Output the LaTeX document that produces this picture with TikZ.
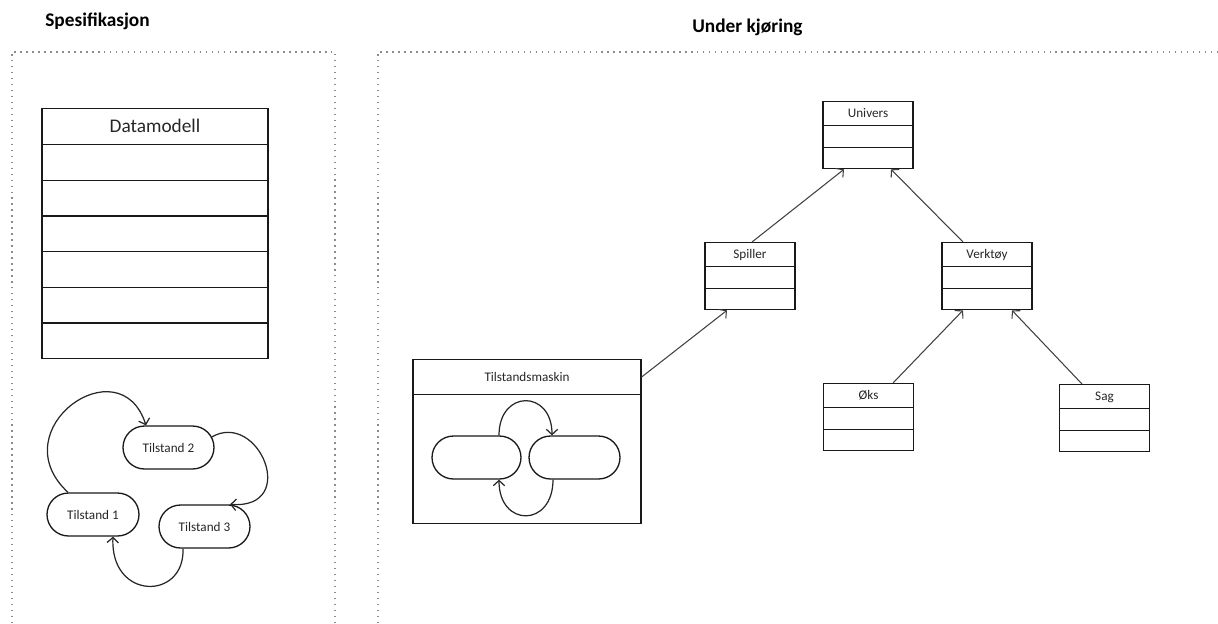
\documentclass[tikz,border=0pt]{standalone}
\usepackage{fontspec}
\setmainfont{Carlito}
\usetikzlibrary{arrows.meta,calc,shapes.misc}
\newcommand\smallfnt{\fontsize{7.5}{9}\selectfont}
\newcommand\midfnt{\fontsize{11}{13}\selectfont}
\newcommand\titlefnt{\fontsize{11}{13}\selectfont\bfseries}
\tikzset{
  frame/.style={draw=black!45, line width=0.7pt, dash pattern=on 0.8pt off 2.6pt},
  box/.style={draw=black!90, line width=0.75pt},
  cls/.style={box, font=\smallfnt, text=black!85, inner xsep=0pt, inner ysep=0pt,
    minimum width=1.8cm, text height=0.325cm, text depth=1.015cm, anchor=north,
    path picture={
      \draw[line width=.75pt] ([yshift=-0.48cm]path picture bounding box.north west) -- ([yshift=-0.48cm]path picture bounding box.north east);
      \draw[line width=.75pt] ([yshift=-0.92cm]path picture bounding box.north west) -- ([yshift=-0.92cm]path picture bounding box.north east);}},
  pill/.style={box, rounded rectangle, minimum height=0.86cm, font=\smallfnt, text=black!85, inner sep=0pt},
  arr/.style={draw=black!75, line width=0.6pt, -{Straight Barb[length=3pt,width=6.5pt]}},
  loop/.style={draw=black!85, line width=0.7pt, -{Straight Barb[length=3pt,width=6.5pt]}},
}
\begin{document}
\begin{tikzpicture}[x=0.02cm,y=-0.02cm]
\useasboundingbox (0,0) rectangle (1218,623);
% frames
\draw[frame] (12,623) -- (12,52) -- (335,52) -- (335,623);
\draw[frame] (378,623) -- (378,52) -- (1218,52);
% titles
\node[font=\titlefnt, anchor=base west, inner sep=0pt] (t-spes) at (45,26) {Spesifikasjon};
\node[font=\titlefnt, anchor=base west, inner sep=0pt] (t-under) at (692,32.5) {Under kjøring};
% Datamodell
\node[box, font=\midfnt, text=black!85, anchor=north, inner xsep=0pt, inner ysep=0pt,
  minimum width=4.52cm, text height=0.485cm, text depth=4.515cm,
  path picture={
    \foreach \k in {0,...,5}{
      \draw[line width=.75pt] ($(path picture bounding box.north west)+(0,-0.72cm-\k*0.7133cm)$) -- ($(path picture bounding box.north east)+(0,-0.72cm-\k*0.7133cm)$);}
  }] (dm) at (155,108) {Datamodell};
% state diagram
\node[pill, minimum width=1.82cm] (t2) at (168.5,447.5) {Tilstand 2};
\node[pill, minimum width=1.84cm] (t1) at (93,514.5) {Tilstand 1};
\node[pill, minimum width=1.82cm] (t3) at (204.5,526.5) {Tilstand 3};
\draw[loop] ($(t1.north)+(-25,0)$) .. controls +(-68,-63) and +(-26,-81) .. ($(t2.north)+(-22.5,0)$);
\draw[loop] ($(t2.east)+(-3,-10.5)$) .. controls +(47,-27) and +(70,5) .. ($(t3.north)+(25.5,0)$);
\draw[loop] ($(t3.south)+(-21.5,0)$) .. controls +(2,52) and +(-3,64) .. ($(t1.south)+(20,0)$);
% Tilstandsmaskin
\node[box, font=\smallfnt, text=black!85, anchor=north, inner xsep=0pt, inner ysep=0pt,
  minimum width=4.56cm, text height=0.435cm, text depth=2.845cm,
  path picture={
    \draw[line width=.75pt] ([yshift=-0.7cm]path picture bounding box.north west) -- ([yshift=-0.7cm]path picture bounding box.north east);
  }] (tm) at (527,359) {Tilstandsmaskin};
\node[pill, minimum width=1.78cm] (pl) at (476.5,457.5) {};
\node[pill, minimum width=1.82cm] (pr) at (574.5,457.5) {};
\draw[loop] ($(pl.north)+(22.5,0)$) .. controls +(0,-46) and +(0,-46) .. ($(pr.north)+(-22.5,0)$);
\draw[loop] ($(pr.south)+(-21.5,0)$) .. controls +(0,48) and +(0,48) .. ($(pl.south)+(22.5,0)$);
% classes
\node[cls] (univ) at (868,101) {Univers};
\node[cls] (spil) at (750,242) {Spiller};
\node[cls] (verk) at (987,242) {Verktøy};
\node[cls] (oks) at (868.5,383) {Øks};
\node[cls] (sag) at (1104.5,384) {Sag};
% connectors
\draw[arr] ($(spil.north)+(2,0)$) -- ($(univ.south)+(-24,0)$);
\draw[arr] ($(verk.north)+(-24,0)$) -- ($(univ.south)+(23,0)$);
\draw[arr] ($(oks.north)+(24.5,0)$) -- ($(verk.south)+(-24,0)$);
\draw[arr] ($(sag.north)+(-22.5,0)$) -- ($(verk.south)+(25,0)$);
\draw[arr] ($(tm.north east)+(0,18)$) -- ($(spil.south)+(-23,0)$);
\end{tikzpicture}
\end{document}
